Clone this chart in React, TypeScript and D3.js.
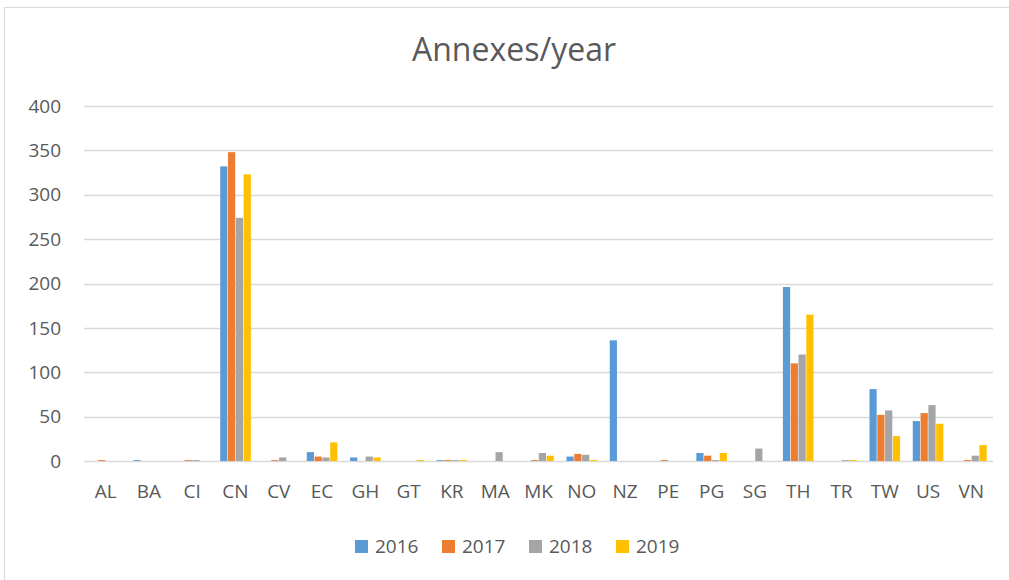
import React from "react";
import * as d3 from "d3";

const categories = ["AL","BA","CI","CN","CV","EC","GH","GT","KR","MA","MK","NO","NZ","PE","PG","SG","TH","TR","TW","US","VN"];
const years = ["2016","2017","2018","2019"];
const v2016 = [0,1,0,332,0,10,4,0,1,0,0,5,136,0,9,0,196,0,81,45,0];
const v2017 = [1,0,1,348,1,5,0,0,1,0,1,8,0,1,6,0,110,0,52,54,1];
const v2018 = [0,0,1,274,4,4,5,0,1,10,9,7,0,0,1,14,120,1,57,63,6];
const v2019 = [0,0,0,323,0,21,4,1,1,0,6,1,0,0,9,0,165,1,28,42,18];
const series = [v2016, v2017, v2018, v2019];
const colors = ["#5B9BD5","#ED7D31","#A5A5A5","#FFC000"];
const yTicks = [0,50,100,150,200,250,300,350,400];

export default function App() {
  const W = 1009, H = 580;
  const left = 84, right = 993, top = 106, bottom = 461;
  const x = d3.scaleBand().domain(categories).range([left, right]).paddingInner(0).paddingOuter(0);
  const y = d3.scaleLinear().domain([0, 400]).range([bottom, top]);
  const barW = 7.8;
  const inner = d3.scaleBand().domain(years).range([0, barW * 4]);
  const font = "'Open Sans', sans-serif";
  const txt = "#595959";
  return (
    <svg width={W} height={H} style={{ position: "absolute", left: 0, top: 0, background: "#fff" }}>
      <rect x={4.5} y={7.5} width={1010} height={600} fill="#fff" stroke="#d9d9d9" />
      <text x={514} y={61} textAnchor="middle" fontFamily={font} fontSize={32} fill={txt}>Annexes/year</text>
      {yTicks.map((t) => (
        <g key={t}>
          <line x1={left} x2={right} y1={Math.round(y(t)) + 0.5} y2={Math.round(y(t)) + 0.5} stroke="#d9d9d9" strokeWidth={1.3} />
          <text x={61} y={y(t)} dy="0.35em" textAnchor="end" fontFamily={font} fontSize={19} fill={txt}>{t}</text>
        </g>
      ))}
      {categories.map((c, i) => {
        const cx = (x(c) as number) + x.bandwidth() / 2;
        const g0 = cx - barW * 2;
        return (
          <g key={c}>
            {series.map((s, k) => {
              const v = s[i];
              if (!v) return null;
              return (
                <rect key={k} x={g0 + (inner(years[k]) as number) + 0.3} width={barW - 0.6}
                  y={y(v)} height={bottom - y(v)} fill={colors[k]} />
              );
            })}
            <text x={cx} y={491} dy="0.35em" textAnchor="middle" fontFamily={font} fontSize={19} fill={txt}>{c}</text>
          </g>
        );
      })}
      {years.map((yr, k) => {
        const lx = 355 + k * 87;
        return (
          <g key={yr}>
            <rect x={lx} y={540} width={13} height={13} fill={colors[k]} />
            <text x={lx + 20} y={546.5} dy="0.35em" fontFamily={font} fontSize={19} fill={txt}>{yr}</text>
          </g>
        );
      })}
    </svg>
  );
}
